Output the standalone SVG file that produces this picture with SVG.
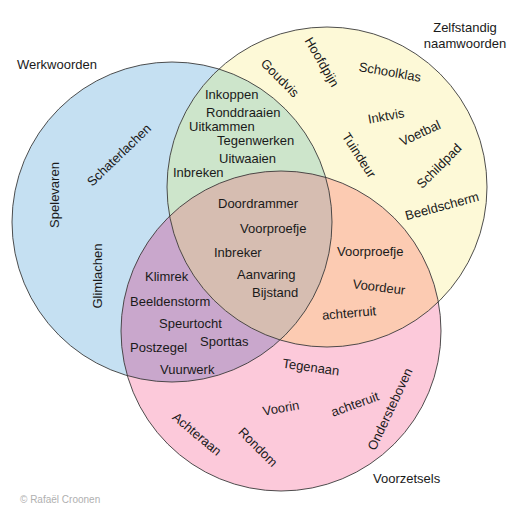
<svg xmlns="http://www.w3.org/2000/svg" width="519" height="519" viewBox="0 0 519 519">
<style>
text{font-family:"Liberation Sans",Arial,sans-serif;font-size:13px;fill:#1a1a1a}
.c{text-anchor:middle}
.outline{fill:none;stroke:#3a3a3a;stroke-width:0.9}
.copy{fill:#b0b0b0;font-size:10px}
</style>
<defs>
<clipPath id="cb"><circle cx="172" cy="222" r="160"/></clipPath>
<clipPath id="cy"><circle cx="327" cy="187" r="160"/></clipPath>
<clipPath id="cp"><circle cx="281" cy="331" r="160"/></clipPath>
</defs>
<rect width="519" height="519" fill="#ffffff"/>
<g id="regions">
<circle cx="172" cy="222" r="160" fill="#c5e0f2"/>
<circle cx="327" cy="187" r="160" fill="#fdf9d7"/>
<circle cx="281" cy="331" r="160" fill="#fcc9da"/>
<circle cx="327" cy="187" r="160" fill="#cde5cb" clip-path="url(#cb)"/>
<circle cx="281" cy="331" r="160" fill="#c9a7cc" clip-path="url(#cb)"/>
<circle cx="281" cy="331" r="160" fill="#fccbb2" clip-path="url(#cy)"/>
<g clip-path="url(#cb)"><circle cx="281" cy="331" r="160" fill="#d6bdb1" clip-path="url(#cy)"/></g>
</g>
<g id="werkwoorden">
<circle class="outline" cx="172" cy="222" r="160"/>
<text x="17" y="69">Werkwoorden</text>
<text class="c" transform="translate(54,195) rotate(-90)" y="4.5">Spelevaren</text>
<text class="c" transform="translate(119,155) rotate(-44)" y="4.5">Schaterlachen</text>
<text class="c" transform="translate(97,276) rotate(-90)" y="4.5">Glimlachen</text>
</g>
<g id="zelfstandig-naamwoorden">
<circle class="outline" cx="327" cy="187" r="160"/>
<text class="c" x="465" y="32">Zelfstandig</text>
<text class="c" x="465" y="48">naamwoorden</text>
<text class="c" transform="translate(280,78) rotate(45)" y="4.5">Goudvis</text>
<text class="c" transform="translate(322,62) rotate(60)" y="4.5">Hoofdpijn</text>
<text class="c" transform="translate(390,72) rotate(10)" y="4.5">Schoolklas</text>
<text class="c" transform="translate(386,116) rotate(-10)" y="4.5">Inktvis</text>
<text class="c" transform="translate(420,133) rotate(-25)" y="4.5">Voetbal</text>
<text class="c" transform="translate(359,155) rotate(57)" y="4.5">Tuindeur</text>
<text class="c" transform="translate(439,166) rotate(-45)" y="4.5">Schildpad</text>
<text class="c" transform="translate(442,206) rotate(-15)" y="4.5">Beeldscherm</text>
</g>
<g id="voorzetsels">
<circle class="outline" cx="281" cy="331" r="160"/>
<text x="373" y="483">Voorzetsels</text>
<text class="c" transform="translate(311,367) rotate(8)" y="4.5">Tegenaan</text>
<text class="c" transform="translate(281,408) rotate(-10)" y="4.5">Voorin</text>
<text class="c" transform="translate(355,404) rotate(-20)" y="4.5">achteruit</text>
<text class="c" transform="translate(390,409) rotate(-65)" y="4.5">Ondersteboven</text>
<text class="c" transform="translate(197,434) rotate(40)" y="4.5">Achteraan</text>
<text class="c" transform="translate(258,447) rotate(45)" y="4.5">Rondom</text>
</g>
<g id="werkwoord-naamwoord">
<text x="205" y="99">Inkoppen</text>
<text x="206" y="117">Ronddraaien</text>
<text x="189" y="131">Uitkammen</text>
<text x="217" y="145">Tegenwerken</text>
<text x="219" y="163">Uitwaaien</text>
<text x="173" y="177">Inbreken</text>
</g>
<g id="werkwoord-voorzetsel">
<text x="145" y="281">Klimrek</text>
<text x="130" y="306">Beeldenstorm</text>
<text x="159" y="328">Speurtocht</text>
<text x="200" y="346">Sporttas</text>
<text x="130" y="352">Postzegel</text>
<text x="160" y="374">Vuurwerk</text>
</g>
<g id="naamwoord-voorzetsel">
<text x="337" y="256">Voorproefje</text>
<text class="c" transform="translate(379,287) rotate(7)" y="4.5">Voordeur</text>
<text class="c" transform="translate(349,313) rotate(-5)" y="4.5">achterruit</text>
</g>
<g id="alle-drie">
<text x="218" y="208">Doordrammer</text>
<text x="240" y="233">Voorproefje</text>
<text x="214" y="257">Inbreker</text>
<text x="237" y="279">Aanvaring</text>
<text x="252" y="297">Bijstand</text>
</g>
<text class="copy" x="20" y="503">© Rafaël Croonen</text>
</svg>
